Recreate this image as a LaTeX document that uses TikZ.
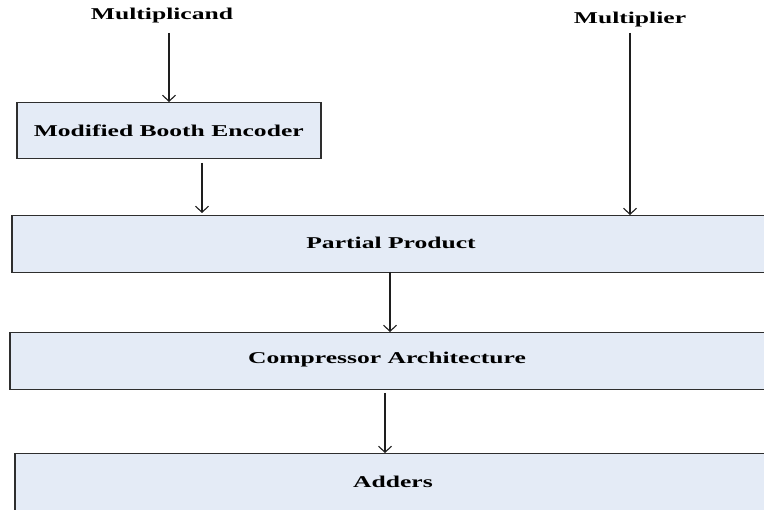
\documentclass[tikz,border=0pt]{standalone}
\usepackage{fontspec}
\setmainfont{Liberation Serif}[FakeStretch=1.55]
\usetikzlibrary{arrows.meta}
\definecolor{boxfill}{HTML}{E4EBF6}
\definecolor{boxline}{HTML}{2E2E2E}
\definecolor{arrline}{HTML}{1E1E1E}
\begin{document}
\begin{tikzpicture}[x=1pt,y=-1pt,
  every node/.style={font=\fontsize{16.5}{19}\selectfont\bfseries, inner sep=0pt},
  blockbox/.style={draw=boxline, fill=boxfill, line width=1.5pt, anchor=north west},
  flowarr/.style={draw=arrline, line width=1.1pt, -{Straight Barb[length=6pt,width=13pt]}}
]
\useasboundingbox (0,0) rectangle (764,510);
\clip (0,0) rectangle (764,510);
% labels
\node (mc) at (162,16) {Multiplicand};
\node (mp) at (630,20) {Multiplier};
% boxes
\node[blockbox, minimum width=304pt, minimum height=56pt] (mbe) at (16,102) {};
\node at (mbe.center) {Modified Booth Encoder};
\node[blockbox, minimum width=760pt, minimum height=57pt] (pp) at (11,215) {};
\node at (391,243) {Partial Product};
\node[blockbox, minimum width=762pt, minimum height=57pt] (ca) at (9,332) {};
\node at (387,360) {Compressor Architecture};
\node[blockbox, minimum width=760pt, minimum height=70pt] (ad) at (14,453) {};
\node at (393,482) {Adders};
% connector end points
\coordinate (mcS) at (169,33);
\coordinate (mbeN) at (169,102);
\coordinate (mpS) at (630,33);
\coordinate (ppNr) at (630,215);
\coordinate (mbeS) at (202,163);
\coordinate (ppNl) at (202,213);
\coordinate (ppS) at (390,272);
\coordinate (caN) at (390,332);
\coordinate (caS) at (385,393);
\coordinate (adN) at (385,453);
% connectors
\draw[flowarr] (mcS) -- (mbeN);
\draw[flowarr] (mpS) -- (ppNr);
\draw[flowarr] (mbeS) -- (ppNl);
\draw[flowarr] (ppS) -- (caN);
\draw[flowarr] (caS) -- (adN);
\end{tikzpicture}
\end{document}
